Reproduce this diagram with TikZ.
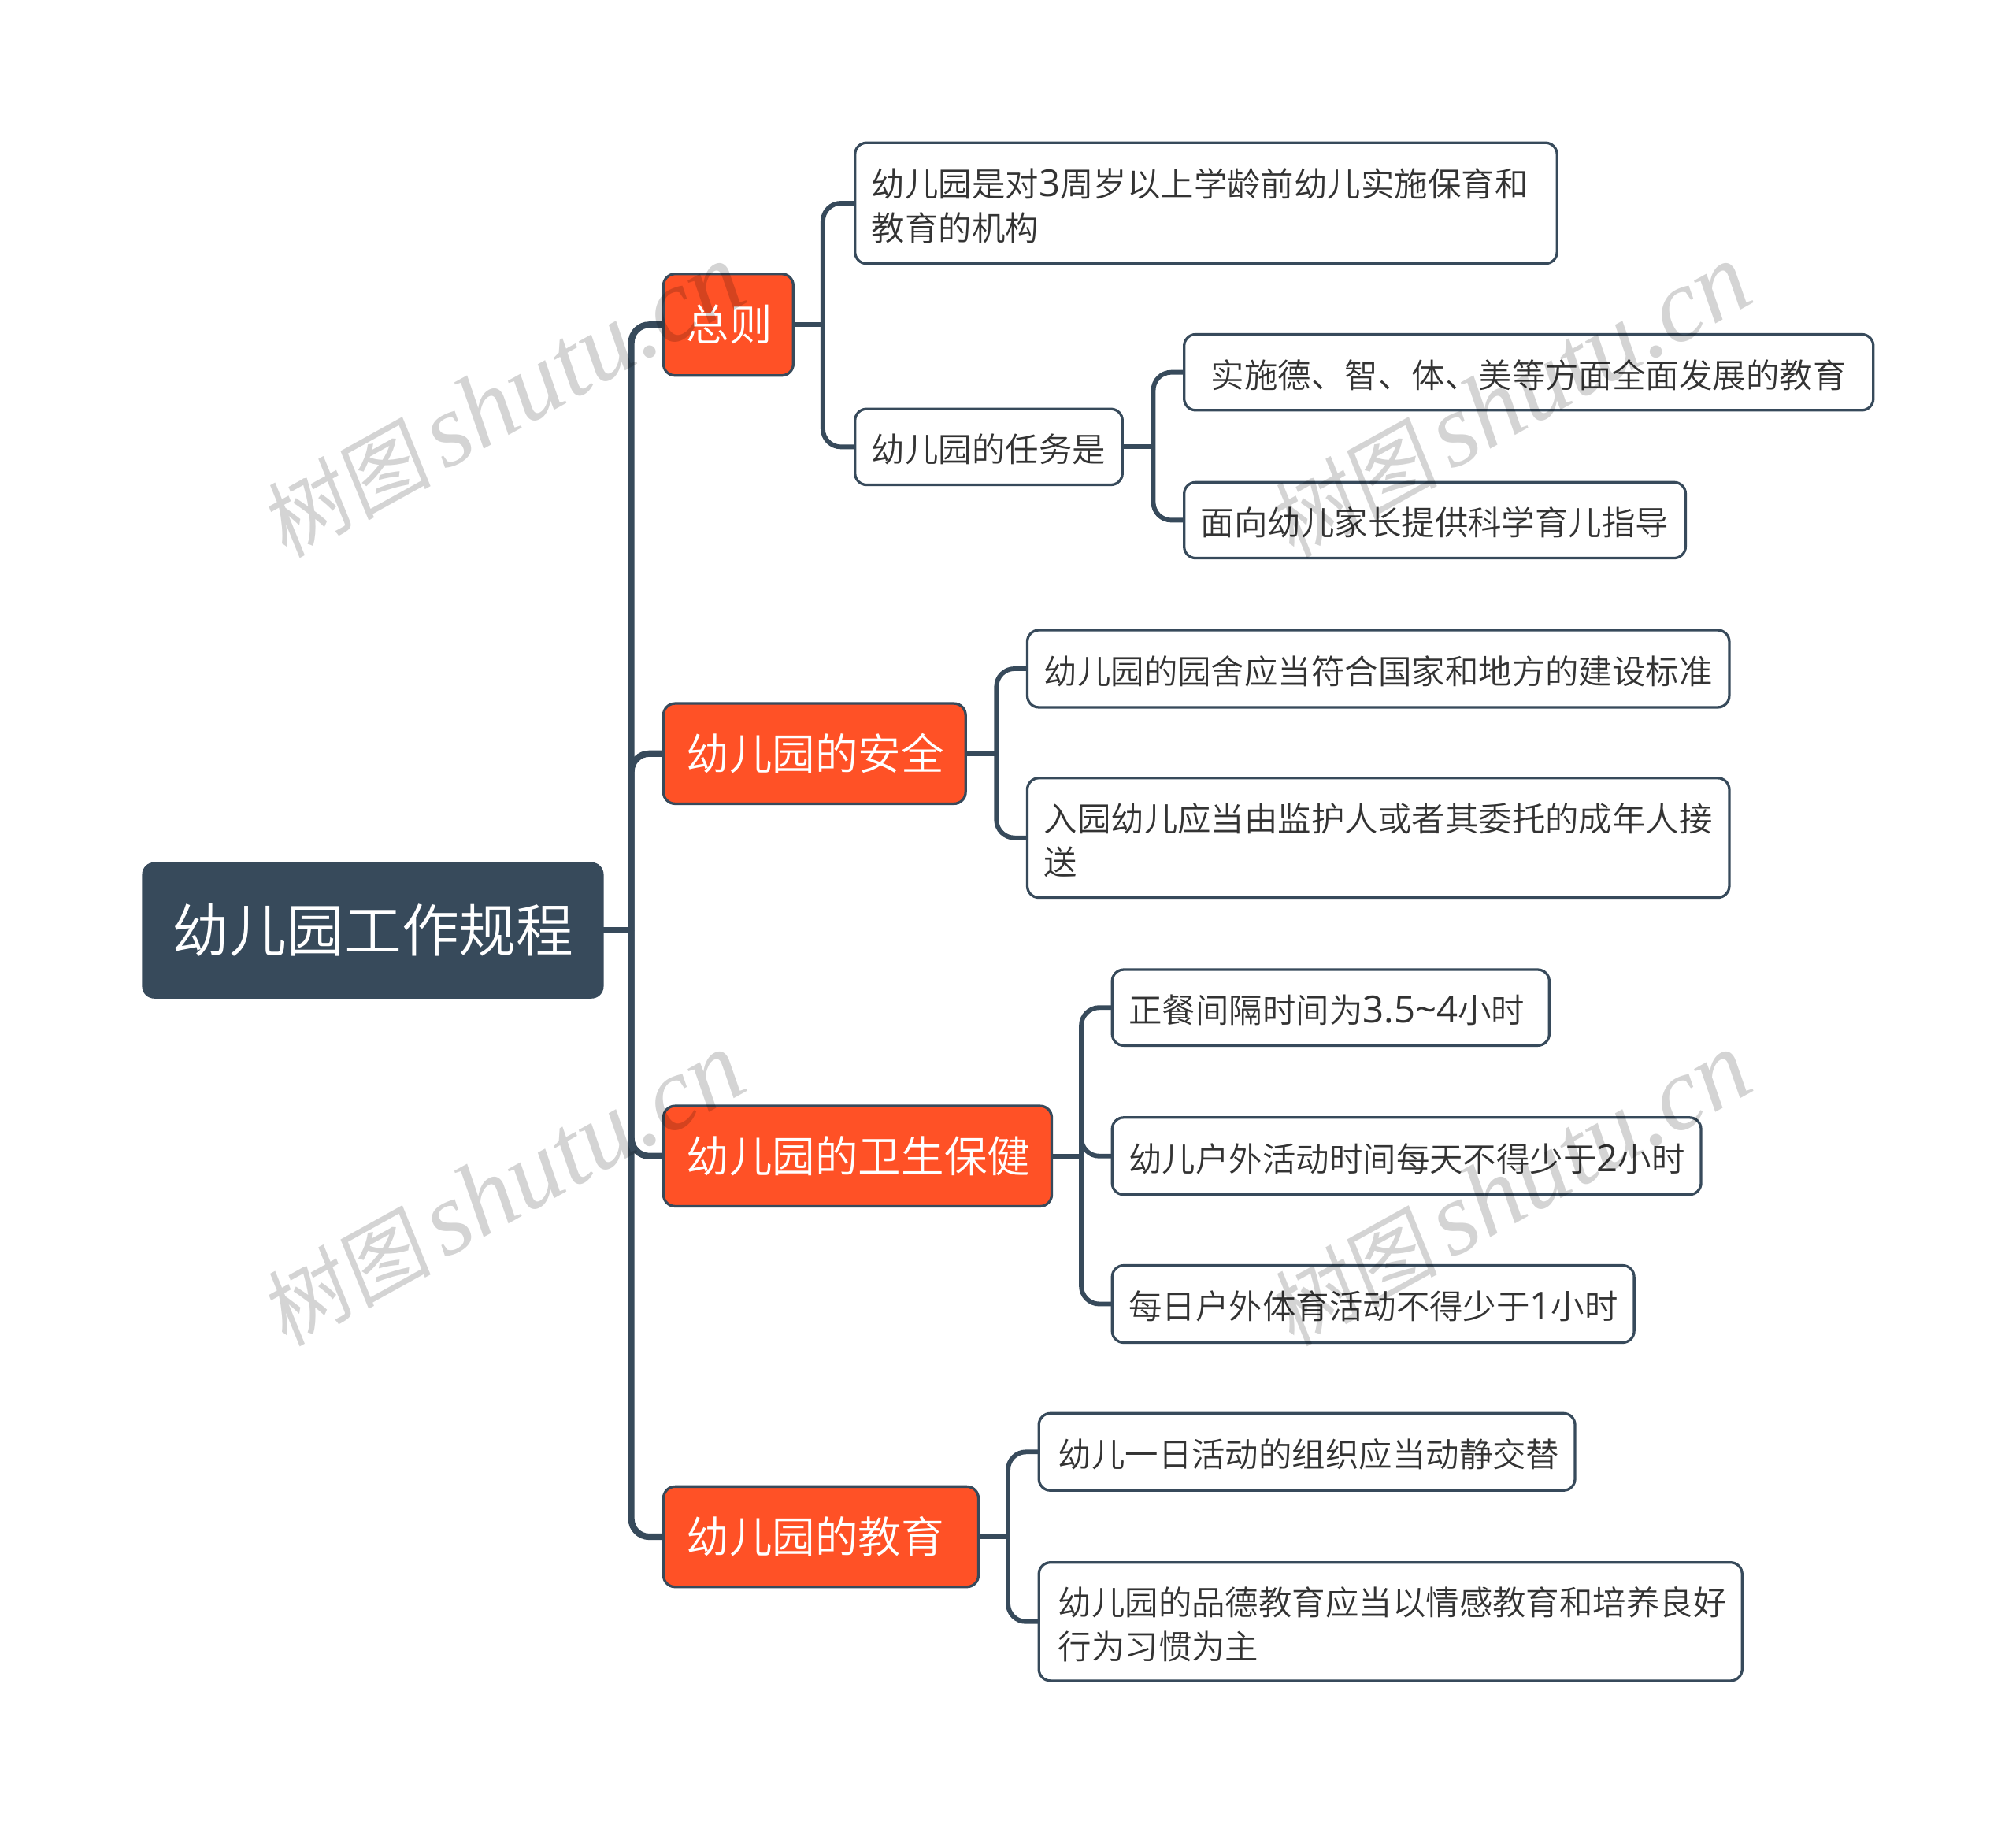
\documentclass[tikz,border=0pt]{standalone}
\usepackage{fontspec}
\setmainfont{Noto Sans CJK SC DemiLight}
\newfontfamily\wmcjk[FakeSlant=0.12]{Noto Sans CJK SC}
\newfontfamily\wmlat{Liberation Serif Italic}
\newfontfamily\digitfont{Open Sans}
\definecolor{slate}{HTML}{374A5B}
\definecolor{flame}{HTML}{FF5126}
\definecolor{ink}{HTML}{333333}
\tikzset{
  basebox/.style={draw=slate,rounded corners=9pt,inner ysep=0pt,outer sep=0pt,align=left},
  rootbox/.style={basebox,fill=slate,text=white,line width=1pt,font=\fontsize{44.6}{50}\selectfont,execute at begin node={\def\lift{0pt}}},
  mainbox/.style={basebox,fill=flame,text=white,line width=2pt,font=\fontsize{33.4}{40}\selectfont,execute at begin node={\def\lift{0pt}}},
  leafbox/.style={basebox,fill=white,text=ink,line width=2pt,font=\fontsize{26}{34}\selectfont,execute at begin node={\def\lift{-2pt}}},
  trunkline/.style={draw=slate,line width=5pt,rounded corners=14pt},
  twigline/.style={draw=slate,line width=3.6pt,rounded corners=14pt},
  wmark/.style={rotate=29,text=black,opacity=0.17,inner sep=0pt}
}
% name, style, padding, left, top, right, bottom, text
\newcommand{\bx}[8]{\node[#2,inner xsep=#3pt,minimum height={(#7)-(#5)},text width={(#6)-(#4)-2*(#3)}] (#1) at ({((#4)+(#6))/2},{((#5)+(#7))/2}) {\raisebox{\lift}[\height][\depth]{\parbox{\linewidth}{\raggedright #8}}};}
\newcommand{\wm}[3]{\node[wmark] (#1) at (#2,#3) {\fontsize{66}{80}\selectfont\wmcjk 树图\hspace{10pt}\fontsize{81}{80}\selectfont\wmlat shutu.cn};}
\newcommand{\dg}[1]{{\fontsize{29}{34}\digitfont #1}}
\begin{document}
\begin{tikzpicture}[x=1pt,y=-1pt]
\useasboundingbox (0,0) rectangle (1568,1419.1);
\bx{root}{rootbox}{23}{111}{671}{469}{776}{幼儿园工作规程}
\bx{m1}{mainbox}{18}{516}{213}{617}{292}{总则}
\bx{m2}{mainbox}{18}{516}{547}{751}{625}{幼儿园的安全}
\bx{m3}{mainbox}{18}{516}{860}{818}{938}{幼儿园的卫生保健}
\bx{m4}{mainbox}{18}{516}{1156}{761}{1234}{幼儿园的教育}
\bx{a1}{leafbox}{13}{665}{111}{1211}{205}{幼儿园是对\dg{3}周岁以上学龄前幼儿实施保育和\\教育的机构}
\bx{a2}{leafbox}{13}{665}{318}{873}{377}{幼儿园的任务是}
\bx{a3}{leafbox}{21}{921}{260}{1457}{319}{实施德、智、体、美等方面全面发展的教育}
\bx{a4}{leafbox}{13}{921}{375}{1311}{434}{面向幼儿家长提供科学育儿指导}
\bx{b1}{leafbox}{13}{799}{490}{1345}{550}{幼儿园的园舍应当符合国家和地方的建设标准}
\bx{b2}{leafbox}{13}{799}{605}{1345}{698}{入园幼儿应当由监护人或者其委托的成年人接\\送}
\bx{c1}{leafbox}{13}{865}{754}{1205}{813}{正餐间隔时间为\dg{3.5\textasciitilde 4}小时}
\bx{c2}{leafbox}{13}{865}{869}{1323}{929}{幼儿户外活动时间每天不得少于\dg{2}小时}
\bx{c3}{leafbox}{13}{865}{984}{1271}{1044}{每日户外体育活动不得少于\dg{1}小时}
\bx{d1}{leafbox}{15}{808}{1099}{1225}{1159}{幼儿一日活动的组织应当动静交替}
\bx{d2}{leafbox}{15}{808}{1215}{1355}{1307}{幼儿园的品德教育应当以情感教育和培养良好\\行为习惯为主}
\coordinate (t0) at (491,723.5);
\coordinate (t1) at (640,252.5);
\coordinate (t2) at (897,347.5);
\coordinate (t3) at (775,586);
\coordinate (t4) at (841,899);
\coordinate (t5) at (784,1195);
\draw[trunkline] (root.east) -- (t0);
\foreach \n in {m1,m2,m3,m4} \draw[trunkline] (t0) |- (\n.west);
\draw[twigline] (m1.east) -- (t1);
\foreach \n in {a1,a2} \draw[twigline] (t1) |- (\n.west);
\draw[twigline] (a2.east) -- (t2);
\foreach \n in {a3,a4} \draw[twigline] (t2) |- (\n.west);
\draw[twigline] (m2.east) -- (t3);
\foreach \n in {b1,b2} \draw[twigline] (t3) |- (\n.west);
\draw[twigline] (m3.east) -- (t4);
\foreach \n in {c1,c2,c3} \draw[twigline] (t4) |- (\n.west);
\draw[twigline] (m4.east) -- (t5);
\foreach \n in {d1,d2} \draw[twigline] (t5) |- (\n.west);
\wm{w1}{391}{312}
\wm{w2}{1174}{312}
\wm{w3}{391}{925}
\wm{w4}{1174}{925}
\end{tikzpicture}
\end{document}
